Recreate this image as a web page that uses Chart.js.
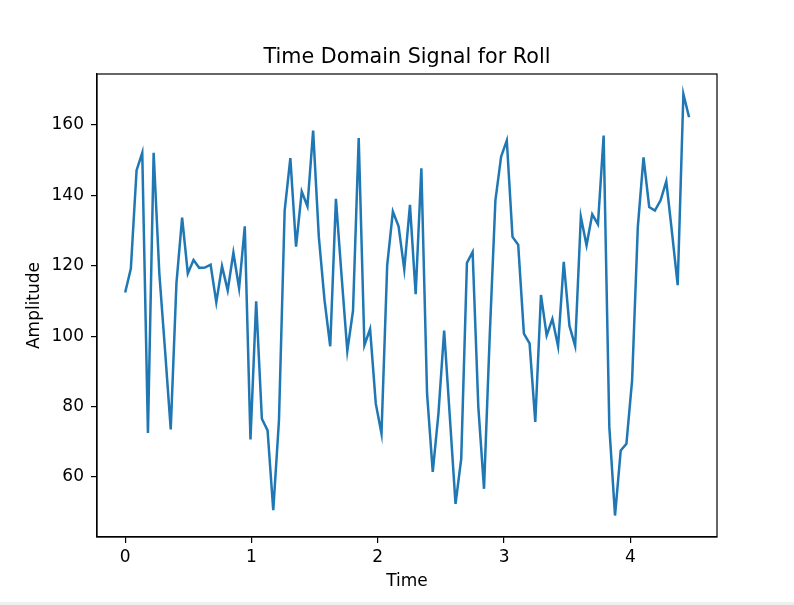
<!DOCTYPE html>
<html>
<head>
<meta charset="utf-8">
<script src="https://cdn.jsdelivr.net/npm/chart.js@4"></script>
<style>
  body { margin: 0; background: #efefef; }
  canvas { display: block; background: #fff; }
</style>
</head>
<body>
<canvas id="chart" width="794" height="602"></canvas>
<script>
// roll samples
const roll = [
  112.4, 119.2, 147.1, 152.1, 72.5, 152.1, 117.8, 96, 73.5, 115,
  133.7, 117.8, 121.6, 119.4, 119.5, 120.3, 109.6, 119.9, 113, 123.7,
  113.6, 131.2, 70.6, 109.9, 76.5, 73.2, 50.5, 76, 135.7, 150.6,
  125.4, 141.1, 136.9, 158.4, 128.2, 110.2, 97.1, 139, 117, 95.8,
  107.2, 156.3, 97.4, 102, 80.8, 72.3, 120.1, 135.4, 131.2, 119,
  137.3, 111.9, 147.7, 83.7, 61.4, 78, 101.6, 77, 52.3, 65.2,
  120.8, 123.9, 79.9, 56.6, 100, 138.6, 151, 155.6, 128.2, 126,
  100.7, 97.9, 75.6, 111.7, 100.2, 104.9, 97.1, 121.1, 102.9, 97.2,
  133.9, 125.8, 134.6, 131.8, 157, 74.2, 49, 67.5, 69.4, 87.5,
  131, 150.8, 136.7, 135.7, 138.6, 144, 129.5, 114.5, 168.8, 162.2,
];
const sampleStep = 0.0451; // seconds between samples
const time = roll.map((_, i) => i * sampleStep);

const xTicks = [0, 1, 2, 3, 4];
const yTicks = [60, 80, 100, 120, 140, 160];
const titleText = "Time Domain Signal for Roll";

const font = "'DejaVu Sans', sans-serif";

// box around the plot + title centred over the axes (matplotlib style)
const frame = {
  id: "frame",
  afterDraw(chart) {
    const { ctx, chartArea: a } = chart;
    ctx.save();
    ctx.strokeStyle = "#000";
    ctx.lineWidth = 1.2;
    ctx.strokeRect(a.left, a.top, a.right - a.left, a.bottom - a.top);
    ctx.fillStyle = "#000";
    ctx.font = "20.7px " + font;
    ctx.textAlign = "center";
    ctx.textBaseline = "middle";
    ctx.fillText(titleText, (a.left + a.right) / 2, a.top - 16.6);
    ctx.restore();
  },
};

const ctx = document.getElementById("chart").getContext("2d");
const chart = new Chart(ctx, {
  type: "line",
  data: {
    datasets: [
      {
        label: "Roll",
        data: time.map((t, i) => ({ x: t, y: roll[i] })),
        borderColor: "#1f77b4",
        borderWidth: 2.5,
        pointRadius: 0,
        tension: 0,
        fill: false,
      },
    ],
  },
  options: {
    responsive: false,
    animation: false,
    layout: {
      padding: { left: 0, right: 77, top: 74, bottom: 0 },
    },
    scales: {
      x: {
        type: "linear",
        min: -0.223,
        max: 4.686,
        afterBuildTicks: (scale) => {
          scale.ticks = xTicks.map((value) => ({ value }));
        },
        afterFit: (scale) => {
          scale.height = 65;
        },
        ticks: {
          color: "#000",
          font: { family: font, size: 17 },
          padding: 4,
          maxRotation: 0,
        },
        grid: {
          drawOnChartArea: false,
          drawTicks: true,
          tickLength: 6,
          color: "#000",
          lineWidth: 1.2,
        },
        border: { color: "#000", width: 1.2 },
        title: {
          display: true,
          text: "Time",
          color: "#000",
          font: { family: font, size: 17 },
          padding: { top: 0, bottom: 10 },
        },
      },
      y: {
        min: 42.9,
        max: 174.5,
        afterBuildTicks: (scale) => {
          scale.ticks = yTicks.map((value) => ({ value }));
        },
        afterFit: (scale) => {
          scale.width = 97;
        },
        ticks: {
          color: "#000",
          font: { family: font, size: 17 },
          padding: 7,
        },
        grid: {
          drawOnChartArea: false,
          drawTicks: true,
          tickLength: 6,
          color: "#000",
          lineWidth: 1.2,
        },
        border: { color: "#000", width: 1.2 },
        title: {
          display: true,
          text: "Amplitude",
          color: "#000",
          font: { family: font, size: 17 },
          padding: { top: 24, bottom: 0 },
        },
      },
    },
    plugins: {
      legend: { display: false },
      tooltip: { enabled: false },
      title: { display: false },
    },
  },
  plugins: [frame],
});
</script>
</body>
</html>
